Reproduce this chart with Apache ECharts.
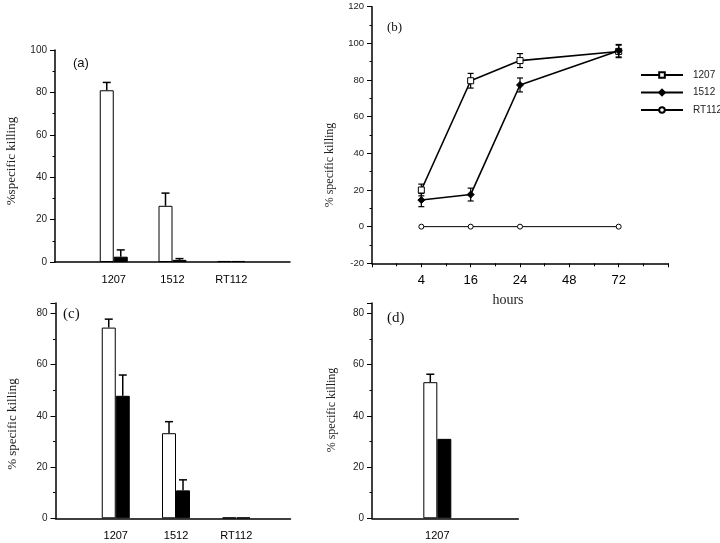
<!DOCTYPE html>
<html><head><meta charset="utf-8">
<script src="https://cdn.jsdelivr.net/npm/echarts@6/dist/echarts.min.js"></script>
<style>html,body{margin:0;padding:0;background:#fff}#c{width:720px;height:543px}</style>
</head><body><div id="c"></div>
<script>
// ---------- Panel (a) ----------
var catsA = ['1207', '1512', 'RT112'];
var aOpen = [81, 26.5, 0.5];
var aOpenErr = [3.7, 6, 0];
var aFilled = [2.5, 1, 0.5];
var aFilledErr = [3.2, 0.6, 0];
var yTicksA = [0, 20, 40, 60, 80, 100];

// ---------- Panel (b) ----------
var hourLabels = ['4', '16', '24', '48', '72'];
var bHours = ['4', '16', '24', '72'];
var b1207 = [20, 79.6, 90.6, 95.6];
var b1207Err = [3.2, 4, 3.8, 3.4];
var b1512 = [14.5, 17.5, 77.3, 96];
var b1512Err = [3.6, 3.5, 3.8, 3.4];
var bRT112 = [0, 0, 0, 0];
var yTicksB = [-20, 0, 20, 40, 60, 80, 100, 120];

// ---------- Panel (c) ----------
var catsC = ['1207', '1512', 'RT112'];
var cOpen = [74.4, 33.2, 0.3];
var cOpenErr = [3.3, 4.5, 0];
var cFilled = [47.8, 10.9, 0.3];
var cFilledErr = [8.1, 4.1, 0];
var yTicksC = [0, 20, 40, 60, 80];

// ---------- Panel (d) ----------
var catsD = ['1207'];
var dOpen = [53.1];
var dOpenErr = [3.1];
var dFilled = [31];
var dFilledErr = [0];
var yTicksD = [0, 20, 40, 60, 80];

var SANS = 'Liberation Sans';
var SERIF = 'Liberation Serif';
var BW = 14;

function upErr(offset) {
  return function (params, api) {
    var e = api.value(2);
    if (!e) return null;
    var x = api.value(0), y = api.value(1);
    var base = api.coord([x, y]);
    var top = api.coord([x, y + e]);
    var cx = base[0] + offset;
    var st = { stroke: '#000', lineWidth: 1.5 };
    return { type: 'group', children: [
      { type: 'line', shape: { x1: cx, y1: base[1], x2: cx, y2: top[1] }, style: st },
      { type: 'line', shape: { x1: cx - 4, y1: top[1], x2: cx + 4, y2: top[1] }, style: st }
    ]};
  };
}
function symErr(params, api) {
  var x = api.value(0), y = api.value(1), e = api.value(2);
  if (!e) return null;
  var lo = api.coord([x, y - e]);
  var hi = api.coord([x, y + e]);
  var st = { stroke: '#000', lineWidth: 1.2 };
  return { type: 'group', children: [
    { type: 'line', shape: { x1: lo[0], y1: lo[1], x2: hi[0], y2: hi[1] }, style: st },
    { type: 'line', shape: { x1: lo[0] - 3, y1: lo[1], x2: lo[0] + 3, y2: lo[1] }, style: st },
    { type: 'line', shape: { x1: hi[0] - 3, y1: hi[1], x2: hi[0] + 3, y2: hi[1] }, style: st }
  ]};
}

function barSeries(idx, open, openErr, filled, filledErr) {
  return [
    { type: 'bar', xAxisIndex: idx, yAxisIndex: idx, barWidth: BW, barGap: '0%',
      itemStyle: { color: '#fff', borderColor: '#000', borderWidth: 1 },
      data: open.map(function (v, i) { return [i + 1, v]; }) },
    { type: 'bar', xAxisIndex: idx, yAxisIndex: idx, barWidth: BW, barGap: '0%',
      itemStyle: { color: '#000', borderColor: '#000', borderWidth: 1 },
      data: filled.map(function (v, i) { return [i + 1, v]; }) },
    { type: 'custom', xAxisIndex: idx, yAxisIndex: idx, z: 5, renderItem: upErr(-BW / 2),
      encode: { x: 0, y: 1 },
      data: open.map(function (v, i) { return [i + 1, v, openErr[i]]; }) },
    { type: 'custom', xAxisIndex: idx, yAxisIndex: idx, z: 5, renderItem: upErr(BW / 2),
      encode: { x: 0, y: 1 },
      data: filled.map(function (v, i) { return [i + 1, v, filledErr[i]]; }) }
  ];
}

function catXAxis(idx, cats, max) {
  return { type: 'value', gridIndex: idx, min: 0, max: max, interval: 1,
    axisLine: { onZero: false, lineStyle: { color: '#000', width: 1.5 } },
    axisTick: { show: false }, splitLine: { show: false },
    axisLabel: { margin: 12, fontFamily: SANS, fontSize: 11, color: '#000',
      showMinLabel: false, showMaxLabel: false,
      formatter: function (v) { return cats[v - 1] || ''; } } };
}
function valYAxis(idx, ticks, max, lblSize) {
  return { type: 'value', gridIndex: idx, min: ticks[0], max: max,
    interval: ticks[1] - ticks[0],
    axisLine: { show: true, onZero: false, lineStyle: { color: '#000', width: 1.5 } },
    axisTick: { show: true, length: 5, lineStyle: { color: '#000', width: 1 } },
    minorTick: { show: true, splitNumber: 2, length: 2.5, lineStyle: { color: '#000', width: 1 } },
    splitLine: { show: false },
    axisLabel: { margin: 8, fontFamily: SANS, fontSize: lblSize || 10, color: '#222',
      showMaxLabel: max === ticks[ticks.length - 1] } };
}

function lineData(vals, errs) {
  return bHours.map(function (h, i) {
    return errs ? [hourLabels.indexOf(h) + 1, vals[i], errs[i]] : [hourLabels.indexOf(h) + 1, vals[i]];
  });
}

var series = []
  .concat(barSeries(0, aOpen, aOpenErr, aFilled, aFilledErr))
  .concat(barSeries(2, cOpen, cOpenErr, cFilled, cFilledErr))
  .concat(barSeries(3, dOpen, dOpenErr, dFilled, dFilledErr))
  .concat([
    { type: 'custom', xAxisIndex: 1, yAxisIndex: 1, renderItem: symErr, encode: { x: 0, y: 1 }, z: 3,
      data: lineData(b1207, b1207Err) },
    { type: 'custom', xAxisIndex: 1, yAxisIndex: 1, renderItem: symErr, encode: { x: 0, y: 1 }, z: 3,
      data: lineData(b1512, b1512Err) },
    { name: '1207', type: 'line', xAxisIndex: 1, yAxisIndex: 1, symbol: 'rect', symbolSize: 6, z: 4,
      lineStyle: { color: '#000', width: 1.6 },
      itemStyle: { color: '#fff', borderColor: '#000', borderWidth: 1 },
      data: lineData(b1207) },
    { name: '1512', type: 'line', xAxisIndex: 1, yAxisIndex: 1, symbol: 'diamond', symbolSize: 7, z: 4,
      lineStyle: { color: '#000', width: 1.6 },
      itemStyle: { color: '#000', borderColor: '#000', borderWidth: 1 },
      data: lineData(b1512) },
    { name: 'RT112', type: 'line', xAxisIndex: 1, yAxisIndex: 1, symbol: 'circle', symbolSize: 5, z: 4,
      lineStyle: { color: '#000', width: 1 },
      itemStyle: { color: '#fff', borderColor: '#000', borderWidth: 1 },
      data: lineData(bRT112) }
  ]);

var yName = function (x, y, txt, size) {
  return { type: 'text', x: x, y: y, rotation: Math.PI / 2,
    style: { text: txt, font: size + 'px "' + SERIF + '"', fill: '#222', align: 'center', verticalAlign: 'middle' } };
};
var pLabel = function (x, y, txt, size, fam) {
  return { type: 'text', x: x, y: y,
    style: { text: txt, font: size + 'px "' + fam + '"', fill: '#111', align: 'left', verticalAlign: 'middle' } };
};

var option = {
  animation: false,
  backgroundColor: '#fff',
  grid: [
    { left: 55, top: 50, width: 235, height: 212 },
    { left: 372, top: 6.7, width: 296, height: 256.6 },
    { left: 55.5, top: 303, width: 235, height: 215.3 },
    { left: 372, top: 303, width: 146.3, height: 215.3 }
  ],
  xAxis: [
    catXAxis(0, catsA, 4),
    { type: 'value', gridIndex: 1, min: 0, max: hourLabels.length + 1, interval: 1,
      axisLine: { onZero: false, lineStyle: { color: '#000', width: 1.5 } },
      axisTick: { show: true, length: 4, lineStyle: { color: '#000', width: 1 } },
      minorTick: { show: true, splitNumber: 2, length: 3, lineStyle: { color: '#000', width: 1 } },
      splitLine: { show: false },
      axisLabel: { margin: 11, fontFamily: SANS, fontSize: 13, color: '#000',
        formatter: function (v) { return hourLabels[v - 1] || ''; } },
      name: 'hours', nameLocation: 'middle', nameGap: 30,
      nameTextStyle: { fontFamily: SERIF, fontSize: 14, color: '#222', padding: [0, 24, 0, 0] } },
    catXAxis(2, catsC, 3.9),
    catXAxis(3, catsD, 2.24)
  ],
  yAxis: [
    valYAxis(0, yTicksA, yTicksA[yTicksA.length - 1]),
    valYAxis(1, yTicksB, yTicksB[yTicksB.length - 1], 9.5),
    valYAxis(2, yTicksC, 84),
    valYAxis(3, yTicksD, 84)
  ],
  legend: {
    data: ['1207', '1512', 'RT112'], orient: 'vertical', left: 640, top: 70,
    itemWidth: 42, itemHeight: 7, itemGap: 7.5, padding: 0, selectedMode: false,
    textStyle: { fontFamily: SANS, fontSize: 10, color: '#222', lineHeight: 10, padding: [0, 0, 0, 5] }
  },
  graphic: [
    yName(12, 161, '%specific killing', 13),
    yName(330, 165, '% specific killing', 12),
    yName(12.7, 424, '% specific killing', 13),
    yName(331.7, 410, '% specific killing', 12),
    pLabel(73, 63.5, '(a)', 13, SANS),
    pLabel(387, 28, '(b)', 13, SERIF),
    pLabel(63, 314, '(c)', 15, SERIF),
    pLabel(387, 318, '(d)', 15, SERIF)
  ],
  series: series
};
var chart = echarts.init(document.getElementById('c'), null, { renderer: 'canvas' });
chart.setOption(option);
</script>
</body></html>
